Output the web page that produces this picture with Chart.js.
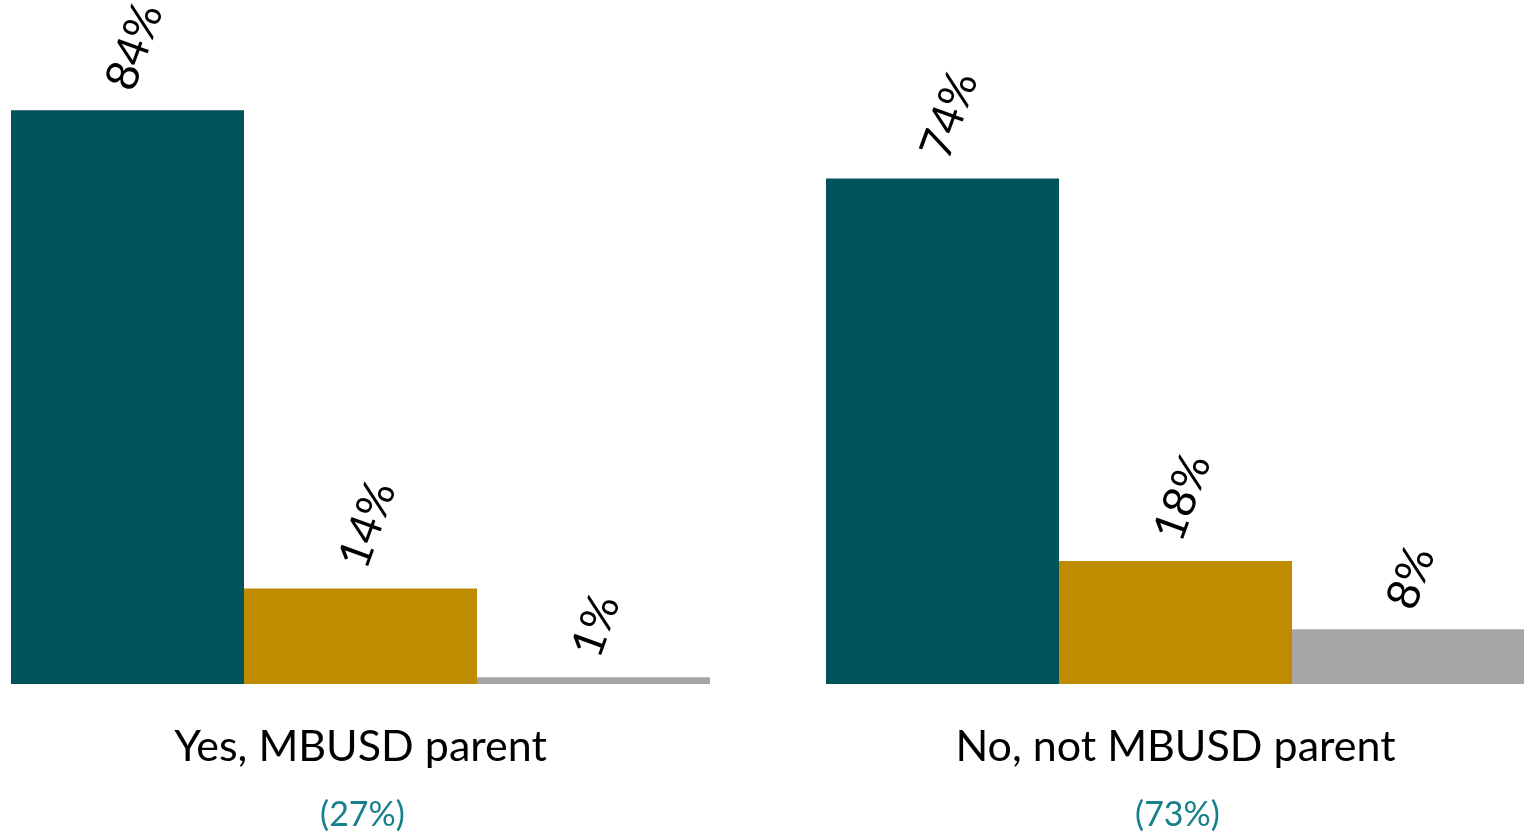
<!DOCTYPE html>
<html>
<head>
<meta charset="utf-8">
<script src="https://cdn.jsdelivr.net/npm/chart.js@4.4.1/dist/chart.umd.min.js"></script>
<style>
  html, body { margin: 0; padding: 0; background: #ffffff; overflow: hidden; width: 1524px; height: 833px; }
  #wrap { position: absolute; left: -47px; top: 0; width: 1630px; height: 833px; }
</style>
</head>
<body>
<div id="wrap"><canvas id="c" width="1630" height="833"></canvas></div>
<script>
const categories = ["Yes, MBUSD parent", "No, not MBUSD parent"];
const groupShares = ["(27%)", "(73%)"];
const seriesNames = ["Series 1", "Series 2", "Series 3"];
const series1 = [84, 74];
const series2 = [14, 18];
const series3 = [1, 8];
const seriesColors = ["#00525B", "#BF8B00", "#A6A6A6"];

const FONT = "Lato, 'Open Sans', sans-serif";

const labelPlugin = {
  id: 'labels',
  afterDatasetsDraw(chart) {
    const ctx = chart.ctx;
    ctx.save();
    chart.data.datasets.forEach((ds, di) => {
      const meta = chart.getDatasetMeta(di);
      meta.data.forEach((bar, i) => {
        const v = ds.data[i];
        ctx.save();
        ctx.translate(bar.x - 8, bar.y - 22);
        ctx.rotate(-70 * Math.PI / 180);
        ctx.font = "45px " + FONT;
        ctx.fillStyle = "#000000";
        ctx.textAlign = "left";
        ctx.textBaseline = "middle";
        ctx.fillText(v + "%", 0, 0);
        ctx.restore();
      });
    });
    const xs = chart.scales.x;
    chart.data.labels.forEach((lab, i) => {
      const x = xs.getPixelForValue(i);
      ctx.font = "43px " + FONT;
      ctx.fillStyle = "#000000";
      ctx.textAlign = "center";
      ctx.textBaseline = "middle";
      ctx.fillText(lab, x, 747);
      ctx.font = "34px " + FONT;
      ctx.fillStyle = "#17808A";
      ctx.fillText(groupShares[i], x + 2, 815);
    });
    ctx.restore();
  }
};

new Chart(document.getElementById('c'), {
  type: 'bar',
  data: {
    labels: categories,
    datasets: [series1, series2, series3].map((d, i) => ({
      label: seriesNames[i],
      data: d,
      backgroundColor: seriesColors[i],
      borderWidth: 0,
      categoryPercentage: 0.8577,
      barPercentage: 1.0
    }))
  },
  options: {
    responsive: false,
    animation: false,
    devicePixelRatio: 1,
    layout: { padding: { top: 1, bottom: 149, left: 0, right: 0 } },
    plugins: { legend: { display: false }, tooltip: { enabled: false } },
    scales: {
      x: { display: false, offset: true },
      y: { display: false, min: 0, max: 100 }
    }
  },
  plugins: [labelPlugin]
});
</script>
</body>
</html>
